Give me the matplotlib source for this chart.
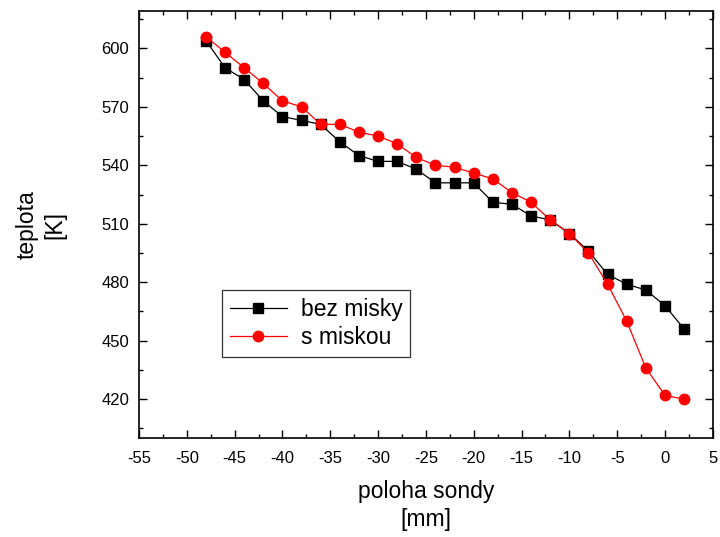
import matplotlib
matplotlib.use("Agg")
import matplotlib.pyplot as plt
from matplotlib.ticker import MultipleLocator

plt.rcParams['font.family'] = ['Liberation Sans', 'DejaVu Sans']
plt.rcParams['axes.unicode_minus'] = False

# probe position [mm]
poloha = [-48, -46, -44, -42, -40, -38, -36, -34, -32, -30, -28, -26, -24,
          -22, -20, -18, -16, -14, -12, -10, -8, -6, -4, -2, 0, 2]

# temperature without the cup [K]
bez_misky = [604, 590, 584, 573, 565, 563, 561, 552, 545, 542, 542, 538, 531,
             531, 531, 521, 520, 514, 512, 505, 496, 484, 479, 476, 468, 456]

# temperature with the cup [K]
s_miskou = [606, 598, 590, 582, 573, 570, 561, 561, 557, 555, 551, 544, 540,
            539, 536, 533, 526, 521, 512, 505, 495, 479, 460, 436, 422, 420]

fig = plt.figure(figsize=(7.2, 5.37), dpi=100)
ax = fig.add_axes([0.193, 0.184, 0.797, 0.795])

ax.plot(poloha, bez_misky, color='black', lw=0.9, marker='s', ms=6.5,
        mfc='black', mec='black', label='bez misky')
ax.plot(poloha, s_miskou, color='red', lw=0.9, marker='o', ms=7.5,
        mfc='red', mec='red', label='s miskou')

ax.set_xlim(-55, 5)
ax.set_ylim(400, 619)
ax.xaxis.set_major_locator(MultipleLocator(5))
ax.xaxis.set_minor_locator(MultipleLocator(2.5))
ax.yaxis.set_major_locator(MultipleLocator(30))
ax.yaxis.set_minor_locator(MultipleLocator(15))
ax.tick_params(which='both', direction='in', top=True, right=True,
               labelsize=12, width=1)
ax.tick_params(which='major', length=6)
ax.tick_params(which='minor', length=3)
ax.tick_params(axis='x', which='major', pad=9)
ax.tick_params(axis='y', which='major', pad=7)
for s in ax.spines.values():
    s.set_linewidth(1.2)

ax.set_xlabel('poloha sondy\n[mm]', fontsize=16.5, labelpad=10, linespacing=1.3)
ax.set_ylabel('teplota\n[K]', fontsize=16.5, labelpad=25, linespacing=1.3)

leg = ax.legend(loc='lower left', bbox_to_anchor=(0.144, 0.19), fontsize=16.5,
                frameon=True, fancybox=False, edgecolor='black',
                handlelength=2.5, handletextpad=0.6, borderpad=0.35,
                labelspacing=0.2, borderaxespad=0)
leg.get_frame().set_linewidth(0.9)

fig.savefig('out.png', dpi=100)
